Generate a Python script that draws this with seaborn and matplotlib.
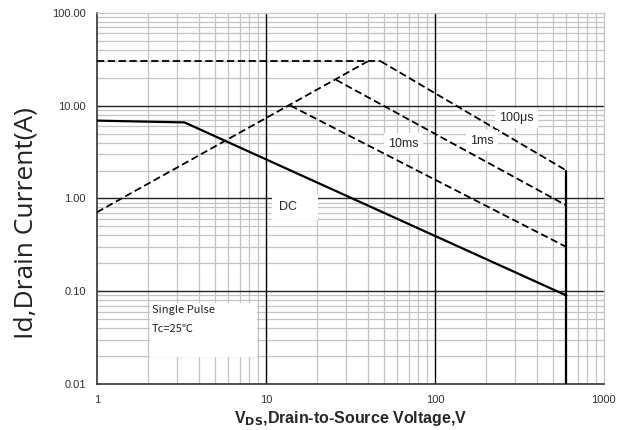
import numpy as np
import pandas as pd
import matplotlib
matplotlib.use("Agg")
import matplotlib.pyplot as plt
import seaborn as sns
from matplotlib.patches import Rectangle
from matplotlib.ticker import FixedLocator, LogLocator, NullFormatter

# Safe operating area curves (V, A)
dc_v = [1, 3.3, 600]
dc_i = [6.9, 6.6, 0.09]
ron_v = [1, 40]
ron_i = [0.71, 30]
top_v = [1, 48]
top_i = [30, 30]
us100_v = [48, 600]
us100_i = [30, 2.0]
ms1_v = [26, 600]
ms1_i = [19, 0.84]
ms10_v = [14, 600]
ms10_i = [10, 0.30]
vmax_v = [600, 600]
vmax_i = [2.0, 0.01]

x_ticks = [1, 10, 100, 1000]
x_labels = ["1", "10", "100", "1000"]
y_ticks = [0.01, 0.1, 1, 10, 100]
y_labels = ["0.01", "0.10", "1.00", "10.00", "100.00"]

sns.set_style("white")
plt.rcParams['font.family'] = ['Liberation Sans', 'DejaVu Sans']

fig = plt.figure(figsize=(6.29, 4.30), dpi=100)
ax = fig.add_axes([0.154, 0.107, 0.806, 0.863])
ax.set_xscale("log")
ax.set_yscale("log")
ax.set_xlim(1, 1000)
ax.set_ylim(0.01, 100)

# grid: gray minor, black major
ax.xaxis.set_minor_locator(LogLocator(base=10, subs=np.arange(2, 10)))
ax.yaxis.set_minor_locator(LogLocator(base=10, subs=np.arange(2, 10)))
ax.xaxis.set_minor_formatter(NullFormatter())
ax.yaxis.set_minor_formatter(NullFormatter())
ax.grid(True, which="minor", color="#c4c4c4", lw=0.9)
ax.grid(False, which="major")
for v in [10, 100]:
    ax.axvline(v, color="black", lw=1.0, zorder=1)
for v in [0.1, 1, 10]:
    ax.axhline(v, color="#222222", lw=1.0, zorder=1)

solid = dict(color="black", lw=1.6, zorder=3, estimator=None, sort=False)
dashed = dict(color="black", lw=1.3, zorder=3, dashes=(4, 2), estimator=None, sort=False)

sns.lineplot(x=dc_v, y=dc_i, ax=ax, **solid)
sns.lineplot(x=vmax_v, y=vmax_i, ax=ax, **solid)
sns.lineplot(x=ron_v, y=ron_i, ax=ax, **dashed)
sns.lineplot(x=top_v, y=top_i, ax=ax, **dashed)
sns.lineplot(x=us100_v, y=us100_i, ax=ax, **dashed)
sns.lineplot(x=ms1_v, y=ms1_i, ax=ax, **dashed)
sns.lineplot(x=ms10_v, y=ms10_i, ax=ax, **dashed)

box = dict(facecolor="white", edgecolor="none", pad=3)
ax.text(305, 7.4, "100\u03bcs", fontsize=9, ha="center", va="center", bbox=box, zorder=4)
ax.text(190, 4.2, "1ms", fontsize=9, ha="center", va="center", bbox=box, zorder=4)
ax.text(65, 3.9, "10ms", fontsize=9, ha="center", va="center", bbox=box, zorder=4)
ax.text(12.0, 0.8, "DC    ", fontsize=9, ha="left", va="center",
        bbox=dict(facecolor="white", edgecolor="none", pad=5), zorder=4)

# note box
ax.add_patch(Rectangle((2.06, 0.0195), 8.85 - 2.06, 0.0743 - 0.0195,
                       facecolor="white", edgecolor="none", zorder=2))
note_font = ['Noto Sans CJK SC', 'DejaVu Sans']
ax.text(2.12, 0.0625, "Single Pulse", fontsize=8, ha="left", va="center",
        family=note_font, color="#222222", zorder=4)
ax.text(2.12, 0.039, "Tc=25\u2103", fontsize=8, ha="left", va="center",
        family=note_font, color="#222222", zorder=4)

ax.xaxis.set_major_locator(FixedLocator(x_ticks))
ax.yaxis.set_major_locator(FixedLocator(y_ticks))
ax.set_xticklabels(x_labels)
ax.set_yticklabels(y_labels)
ax.tick_params(axis="both", which="both", length=0, labelsize=8, labelcolor="#333333", pad=8)

for side in ["top", "right"]:
    ax.spines[side].set_color("#c4c4c4")
    ax.spines[side].set_linewidth(0.9)
for side in ["left", "bottom"]:
    ax.spines[side].set_color("#333333")
    ax.spines[side].set_linewidth(1.2)

ax.set_xlabel(r"V$_{\mathbf{DS}}$,Drain-to-Source Voltage,V", fontsize=11.5, fontweight="bold", labelpad=3)
ax.set_ylabel("Id,Drain Current(A)", fontsize=19, color="#222222", family="Open Sans")
ax.yaxis.set_label_coords(-0.115, 0.434)

fig.savefig("out.png", dpi=100)
